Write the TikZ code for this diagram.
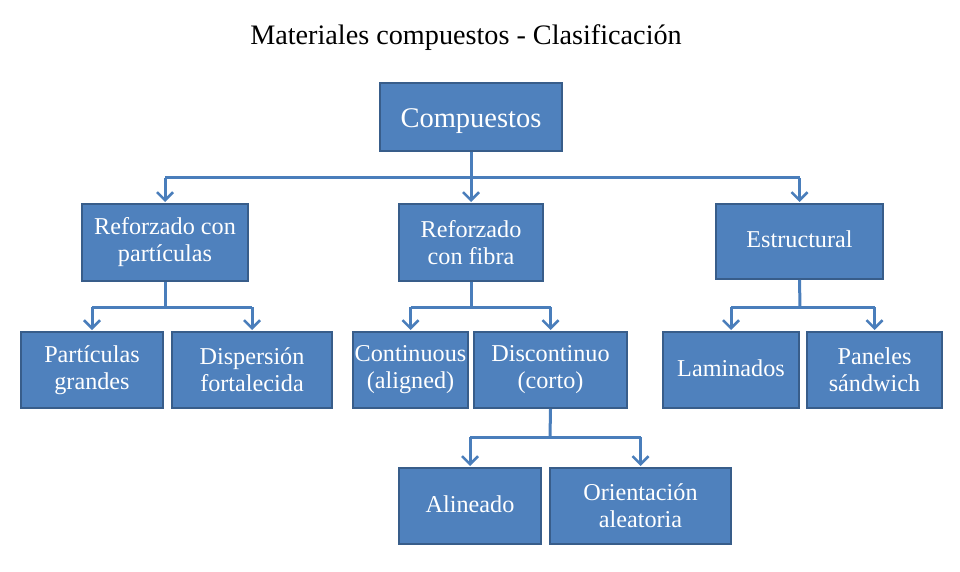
\documentclass[tikz,border=0pt]{standalone}
\usepackage{fontspec}
\setmainfont{Liberation Serif}
\usetikzlibrary{arrows.meta}
\definecolor{boxfill}{HTML}{4F81BD}
\definecolor{boxline}{HTML}{385D8A}
\definecolor{conncol}{HTML}{4A7EBB}
\tikzset{
  cbox/.style={draw=boxline, line width=2pt, fill=boxfill, text=white, align=center,
    inner sep=0pt, font=\fontsize{24.2}{27}\selectfont},
  conn/.style={draw=conncol, line width=3pt},
  arr/.style={conn, -{Straight Barb[length=8pt,width=16pt,line width=2.5pt]}, shorten >=1pt},
}
\newcommand{\bx}[7][]{% opts, name, x1, y1, x2, y2, text
  \node[cbox, minimum width=#5-#3, minimum height=#6-#4, #1] (#2) at ({(#3+#5)/2},{(#4+#6)/2}) {#7};}
\begin{document}
\begin{tikzpicture}[x=1pt,y=-1pt]
\useasboundingbox (0,0) rectangle (960,572);
\node[font=\fontsize{28.2}{30}\selectfont, anchor=base] (title) at (466,45) {Materiales compuestos - Clasificación};
\bx[font=\fontsize{28.5}{32}\selectfont, text height=27pt, text depth=5pt]{comp}{380}{83}{562}{151}{Compuestos}
\bx{rp}{82}{204}{248}{281}{Reforzado con\\partículas}
\bx{rf}{399}{204}{543}{281}{Reforzado\\con fibra}
\bx{est}{716}{204}{883}{279}{\raisebox{5pt}{Estructural}}
\bx{pg}{21}{332}{163}{408}{Partículas\\grandes}
\bx{df}{172}{332}{332}{408}{Dispersión\\fortalecida}
\bx{cont}{353}{332}{468}{408}{Continuous\\(aligned)}
\bx{disc}{474}{332}{627}{408}{Discontinuo\\(corto)}
\bx{lam}{663}{332}{799}{408}{\raisebox{4pt}{Laminados}}
\bx{pan}{807}{332}{942}{408}{Paneles\\sándwich}
\bx{ali}{399}{468}{541}{544}{\raisebox{4pt}{Alineado}}
\bx{ori}{550}{468}{731}{544}{Orientación\\aleatoria}
% level 1 -> 2
\coordinate (j1) at (471,178);
\draw[conn] (comp.south) -- (j1);
\draw[conn] (rp.north |- j1) -- (est.north |- j1);
\draw[arr] (rp.north |- j1) -- (rp.north);
\draw[arr] (j1) -- (rf.north);
\draw[arr] (est.north |- j1) -- (est.north);
% rp -> children
\coordinate (j2) at (165,307);
\draw[conn] (rp.south) -- (j2);
\draw[conn] (pg.north |- j2) -- (df.north |- j2);
\draw[arr] (pg.north |- j2) -- (pg.north);
\draw[arr] (df.north |- j2) -- (df.north);
% rf -> children
\coordinate (j3) at (471,307);
\draw[conn] (rf.south) -- (j3);
\draw[conn] (cont.north |- j3) -- (disc.north |- j3);
\draw[arr] (cont.north |- j3) -- (cont.north);
\draw[arr] (disc.north |- j3) -- (disc.north);
% est -> children
\coordinate (j4) at (800,307);
\draw[conn] (est.south) -- (j4);
\draw[conn] (lam.north |- j4) -- (pan.north |- j4);
\draw[arr] (lam.north |- j4) -- (lam.north);
\draw[arr] (pan.north |- j4) -- (pan.north);
% disc -> children
\coordinate (j5) at (550,437);
\draw[conn] (disc.south) -- (j5);
\draw[conn] (ali.north |- j5) -- (ori.north |- j5);
\draw[arr] (ali.north |- j5) -- (ali.north);
\draw[arr] (ori.north |- j5) -- (ori.north);
\end{tikzpicture}
\end{document}
